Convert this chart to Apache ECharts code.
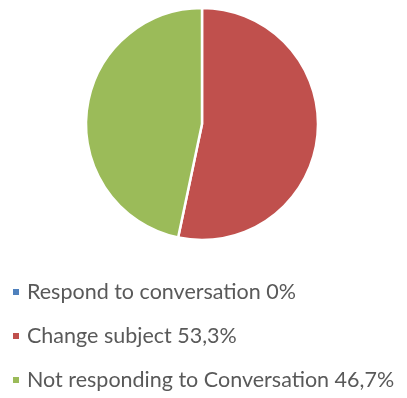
<!DOCTYPE html>
<html>
<head>
<meta charset="utf-8">
<script src="https://cdn.jsdelivr.net/npm/echarts@6/dist/echarts.min.js"></script>
<style>
  html, body { margin: 0; padding: 0; background: #fff; }
  #chart { width: 407px; height: 398px; }
</style>
</head>
<body>
<div id="chart"></div>
<script>
// legend labels and slice values (percent)
const labels = ['Respond to conversation 0%', 'Change subject 53,3%', 'Not responding to Conversation 46,7%'];
const values = [0, 53.3, 46.7];
const colors = ['#4F81BD', '#C0504D', '#9BBB59'];

let chart = echarts.init(document.getElementById('chart'));
chart.setOption({
  animation: false,
  color: colors,
  legend: {
    orient: 'vertical',
    left: 11,
    top: 281,
    padding: 0,
    height: 117,
    icon: 'rect',
    itemWidth: 8,
    itemHeight: 8,
    itemGap: 22,
    textStyle: {
      fontFamily: 'Lato',
      fontSize: 21.5,
      lineHeight: 22,
      color: '#595959',
      padding: [0, 0, 0, 2]
    },
    data: labels
  },
  series: [{
    type: 'pie',
    center: [202, 124],
    radius: 116,
    startAngle: 90,
    clockwise: true,
    label: { show: false },
    labelLine: { show: false },
    itemStyle: { borderColor: '#fff', borderWidth: 2.5 },
    data: labels.map((n, i) => ({ name: n, value: values[i] }))
  }]
});
</script>
</body>
</html>
